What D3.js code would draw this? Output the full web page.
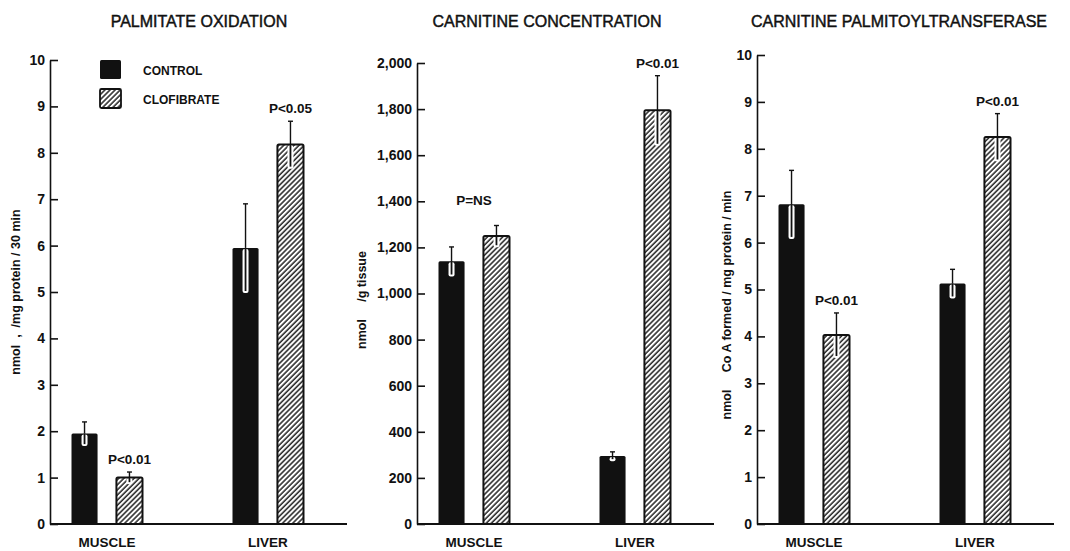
<!DOCTYPE html>
<html lang="en">
<head>
<meta charset="UTF-8">
<title>Palmitate oxidation, carnitine and CPT</title>
<script src="https://d3js.org/d3.v7.min.js"></script>
<style>
    body { margin: 0; background: #fff; }
    svg text { font-family: 'Liberation Sans', Arial, sans-serif; fill: #111; }
    .tick text { font-weight: bold; font-size: 14px; }
    .axis-label { font-weight: bold; font-size: 12.5px; white-space: pre; }
    .title { font-size: 16px; stroke: #111; stroke-width: 0.45px; }
    .group-label { font-weight: bold; font-size: 13.5px; }
    .p-label { font-weight: bold; font-size: 13.5px; }
    .legend text { font-weight: bold; font-size: 12px; }
</style>
</head>
<body>
<svg id="chart" width="1070" height="551"></svg>
<script>
// data
const groups = ["MUSCLE", "LIVER"];
const series = ["CONTROL", "CLOFIBRATE"];

const oxidationControl = [1.95, 5.95];
const oxidationControlSE = [0.25, 0.95];
const oxidationClofibrate = [1.0, 8.18];
const oxidationClofibrateSE = [0.12, 0.5];
const oxidationTicks = [0, 1, 2, 3, 4, 5, 6, 7, 8, 9, 10];

const carnitineControl = [1140, 295];
const carnitineControlSE = [62, 18];
const carnitineClofibrate = [1250, 1795];
const carnitineClofibrateSE = [45, 150];
const carnitineTicks = [0, 200, 400, 600, 800, 1000, 1200, 1400, 1600, 1800, 2000];

const cptControl = [6.82, 5.13];
const cptControlSE = [0.72, 0.3];
const cptClofibrate = [4.03, 8.25];
const cptClofibrateSE = [0.47, 0.5];
const cptTicks = [0, 1, 2, 3, 4, 5, 6, 7, 8, 9, 10];

// p-value notes: [group index, text, anchored over 'bar' or 'group']
const oxidationNotes = [[0, "P<0.01", "bar"], [1, "P<0.05", "bar"]];
const carnitineNotes = [[0, "P=NS", "group"], [1, "P<0.01", "bar"]];
const cptNotes = [[0, "P<0.01", "bar"], [1, "P<0.01", "bar"]];

const panels = [
    { title: "PALMITATE OXIDATION", titleX: 199, axisX: 50, top: 60,
      ticks: oxidationTicks, fmt: d3.format("d"),
      label: "nmol  ,  /mg protein / 30 min", labelX: 20, labelY: 292,
      values: [oxidationControl, oxidationClofibrate], se: [oxidationControlSE, oxidationClofibrateSE],
      notes: oxidationNotes, legend: true },
    { title: "CARNITINE CONCENTRATION", titleX: 547, axisX: 417, top: 63,
      ticks: carnitineTicks, fmt: d3.format(","),
      label: "nmol     /g tissue", labelX: 366, labelY: 300,
      values: [carnitineControl, carnitineClofibrate], se: [carnitineControlSE, carnitineClofibrateSE],
      notes: carnitineNotes },
    { title: "CARNITINE PALMITOYLTRANSFERASE", titleX: 899, axisX: 757, top: 55,
      ticks: cptTicks, fmt: d3.format("d"),
      label: "nmol     Co A formed / mg protein / min", labelX: 731, labelY: 305,
      values: [cptControl, cptClofibrate], se: [cptControlSE, cptClofibrateSE],
      notes: cptNotes }
];

const svg = d3.select("#chart");
const baseY = 524;

// hatch pattern for clofibrate bars
const defs = svg.append("defs");
defs.append("pattern")
    .attr("id", "hatch")
    .attr("patternUnits", "userSpaceOnUse")
    .attr("width", 3.6).attr("height", 3.6)
    .attr("patternTransform", "rotate(45)")
    .call(p => {
        p.append("rect").attr("width", 3.6).attr("height", 3.6).attr("fill", "#fff");
        p.append("line").attr("x1", 1).attr("y1", 0).attr("x2", 1).attr("y2", 3.6)
            .attr("stroke", "#111").attr("stroke-width", 1.4);
    });

const groupX = d3.scalePoint().domain(groups).range([57, 218]);
const seriesX = d3.scaleBand().domain(series).range([-35.5, 35.5]).paddingInner(0.42);

panels.forEach(p => {
    const g = svg.append("g");
    const y = d3.scaleLinear().domain([0, d3.max(p.ticks)]).range([baseY, p.top]);

    g.append("text").attr("class", "title")
        .attr("x", p.titleX).attr("y", 27).attr("text-anchor", "middle").text(p.title);

    // y axis, ticks pointing inward
    g.append("g")
        .attr("transform", `translate(${p.axisX},0)`)
        .call(d3.axisLeft(y).tickValues(p.ticks).tickFormat(p.fmt)
            .tickSizeInner(-8).tickSizeOuter(0).tickPadding(5))
        .call(a => a.select(".domain").attr("stroke", "#111").attr("stroke-width", 1.6))
        .call(a => a.selectAll(".tick line").attr("stroke", "#111").attr("stroke-width", 1.6))
        .call(a => a.selectAll(".tick text").attr("font-family", null).attr("font-size", null));

    // baseline
    g.append("line")
        .attr("x1", p.axisX).attr("x2", p.axisX + 297)
        .attr("y1", baseY).attr("y2", baseY)
        .attr("stroke", "#111").attr("stroke-width", 1.8);

    g.append("text").attr("class", "axis-label")
        .attr("transform", `translate(${p.labelX},${p.labelY}) rotate(-90)`)
        .attr("text-anchor", "middle").text(p.label);

    // x group labels
    g.selectAll(".group-label").data(groups).join("text")
        .attr("class", "group-label")
        .attr("x", d => p.axisX + groupX(d))
        .attr("y", 547).attr("text-anchor", "middle").text(d => d);

    const bars = [];
    groups.forEach((grp, gi) => series.forEach((s, si) => {
        bars.push({ grp, s, si, v: p.values[si][gi], e: p.se[si][gi],
            x: p.axisX + groupX(grp) + seriesX(s) });
    }));
    const bw = seriesX.bandwidth();

    g.selectAll(".bar").data(bars).join("rect")
        .attr("class", "bar")
        .attr("x", d => d.x).attr("y", d => y(d.v))
        .attr("width", bw).attr("height", d => baseY - y(d.v))
        .attr("rx", 1.5)
        .attr("fill", d => d.si === 0 ? "#111" : "url(#hatch)")
        .attr("stroke", "#111").attr("stroke-width", d => d.si === 0 ? 0 : 2);

    // error bars: upper whisker and cap
    g.selectAll(".err").data(bars).join("line")
        .attr("x1", d => d.x + bw / 2).attr("x2", d => d.x + bw / 2)
        .attr("y1", d => y(d.v)).attr("y2", d => y(d.v + d.e))
        .attr("stroke", "#111").attr("stroke-width", 1.4);
    g.selectAll(".cap").data(bars).join("line")
        .attr("x1", d => d.x + bw / 2 - 2.5).attr("x2", d => d.x + bw / 2 + 2.5)
        .attr("y1", d => y(d.v + d.e)).attr("y2", d => y(d.v + d.e))
        .attr("stroke", "#111").attr("stroke-width", 1.4);
    // lower whisker drawn inside the bar, white with a dark core
    g.selectAll(".err-in").data(bars).join("rect")
        .attr("x", d => d.x + bw / 2 - 3).attr("width", 6)
        .attr("y", d => y(d.v) + 1).attr("height", d => y(d.v - d.e) - y(d.v))
        .attr("rx", 2).attr("fill", "#fff");
    g.selectAll(".err-core").data(bars).join("line")
        .attr("x1", d => d.x + bw / 2).attr("x2", d => d.x + bw / 2)
        .attr("y1", d => y(d.v)).attr("y2", d => y(d.v - d.e) - 1)
        .attr("stroke", "#111").attr("stroke-width", 1.8);

    // p-value notes
    g.selectAll(".p-label").data(p.notes).join("text")
        .attr("class", "p-label")
        .attr("x", d => {
            const gx = p.axisX + groupX(groups[d[0]]);
            return d[2] === "group" ? gx : gx + seriesX(series[1]) + bw / 2;
        })
        .attr("y", d => {
            const top = y(p.values[1][d[0]] + p.se[1][d[0]]);
            return d[2] === "group" ? top - 21 : top - 8;
        })
        .attr("text-anchor", "middle").text(d => d[1]);

    if (p.legend) {
        const lg = g.append("g").attr("class", "legend");
        series.forEach((s, si) => {
            lg.append("rect")
                .attr("x", 100).attr("y", 60 + si * 29)
                .attr("width", 21).attr("height", 19).attr("rx", 1.5)
                .attr("fill", si === 0 ? "#111" : "url(#hatch)")
                .attr("stroke", "#111").attr("stroke-width", si === 0 ? 0 : 1.8);
            lg.append("text").attr("x", 143).attr("y", 75 + si * 29).text(s);
        });
    }
});
</script>
</body>
</html>
